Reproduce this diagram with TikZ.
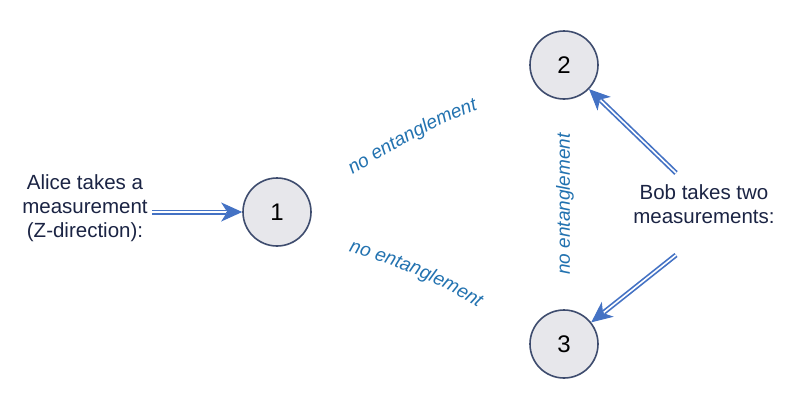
\documentclass[tikz,border=0pt]{standalone}
\usepackage{fontspec}
\setmainfont{Liberation Sans}
\usetikzlibrary{arrows.meta,decorations.text}
\definecolor{arrowblue}{HTML}{4472C4}
\definecolor{circborder}{HTML}{3E4C6E}
\definecolor{circfill}{HTML}{E7E7EB}
\definecolor{navytext}{HTML}{1B2444}
\definecolor{labelblue}{HTML}{2272B0}
\tikzset{
  party/.style={circle, draw=circborder, fill=circfill, line width=1.6pt,
    minimum size=68pt, inner sep=0pt, font=\fontsize{24}{26}\selectfont, text=black},
  who/.style={align=center, text=navytext, font=\fontsize{20.5}{24}\selectfont, inner sep=0pt},
  tipline/.style={arrowblue, line width=1pt, -{Stealth[length=21pt,width=19pt,inset=6pt]}},
  shaft/.style={draw=arrowblue, line width=1.7pt, double=white, double distance=1.6pt, shorten >=16pt},
  lab/.style={text=labelblue, font=\fontsize{19}{21}\selectfont\itshape},
}
\begin{document}
\begin{tikzpicture}[x=1pt,y=-1pt]
\useasboundingbox (0,0) rectangle (797,413);
\fill[white] (0,0) rectangle (797,413);

\node[party] (n1) at (277,212) {1};
\node[party] (n2) at (564,65) {2};
\node[party] (n3) at (564,344) {3};

\node[who] (alice) at (85,208) {Alice takes a\\measurement\\(Z-direction):};
\node[who] (bob) at (704,204) {Bob takes two\\measurements:};

\coordinate (aliceend) at (152,212);
\coordinate (bobtop) at (676,173);
\coordinate (bobbot) at (676,255);

\draw[tipline] (aliceend) -- (n1);
\draw[shaft] (aliceend) -- (n1);
\draw[tipline] (bobtop) -- (n2);
\draw[shaft] (bobtop) -- (n2);
\draw[tipline] (bobbot) -- (n3);
\draw[shaft] (bobbot) -- (n3);

\path[decorate, decoration={text along path, text align=center,
  text={|\fontsize{19}{21}\selectfont\itshape\color{labelblue}|no entanglement}}]
  (347,178) .. controls (392,150) and (437,124) .. (484,107);
\path[decorate, decoration={text along path, text align=center,
  text={|\fontsize{19}{21}\selectfont\itshape\color{labelblue}|no entanglement}}]
  (345,250) .. controls (392,264) and (440,282) .. (481,310);

\node[lab, rotate=90] (vlab) at (565,204) {no entanglement};
\end{tikzpicture}
\end{document}
